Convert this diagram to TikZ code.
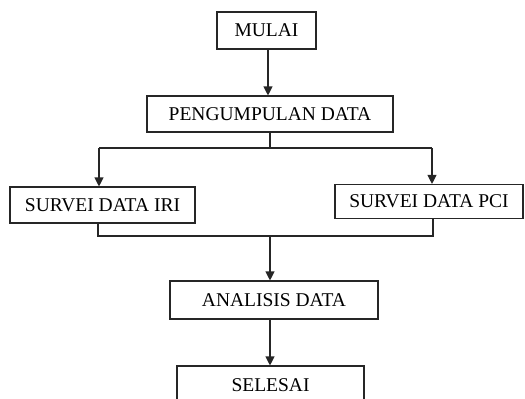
\documentclass[tikz,border=0pt]{standalone}
\usepackage{fontspec}
\setmainfont{Liberation Serif}
\usetikzlibrary{arrows.meta}
\begin{document}
\begin{tikzpicture}[x=1pt,y=-1pt,
  box/.style={draw=black!85,line width=1.1pt,inner sep=0pt,align=center,
    font=\fontsize{19.5}{21}\selectfont},
  link/.style={draw=black!85,line width=1.1pt},
  arr/.style={link,-{Triangle[length=9pt,width=9pt]}}]
\useasboundingbox (0,0) rectangle (525,399);
\clip (0,0) rectangle (525,399);
\node[box,minimum width=99pt,minimum height=37pt] (mulai) at (266.5,30.5) {MULAI};
\node[box,minimum width=246pt,minimum height=36pt] (peng) at (270,114) {PENGUMPULAN DATA};
\node[box,minimum width=185pt,minimum height=36pt] (iri) at (102.5,205) {SURVEI DATA IRI};
\node[box,minimum width=188pt,minimum height=34pt] (pci) at (429,201.5) {SURVEI DATA PCI};
\node[box,minimum width=208pt,minimum height=38pt] (anal) at (274,300) {ANALISIS DATA};
\node[box,minimum width=187pt,minimum height=38pt] (sel) at (270.5,385) {SELESAI};
\coordinate (s1) at (268,49);
\draw[arr] (s1) -- (s1 |- peng.north);
\coordinate (s2) at (270,132);
\coordinate (j1) at (270,148);
\coordinate (l1) at (99,148);
\coordinate (r1) at (432,148);
\draw[link] (s2) -- (j1);
\draw[link] (l1) -- (r1);
\draw[arr] (l1) -- (l1 |- iri.north);
\draw[arr] (r1) -- (r1 |- pci.north);
\coordinate (l2) at (98,236);
\coordinate (r2) at (433,236);
\coordinate (j2) at (270,236);
\draw[link] (l2 |- iri.south) -- (l2) -- (r2) -- (r2 |- pci.south);
\draw[arr] (j2) -- (j2 |- anal.north);
\coordinate (s3) at (270,319);
\draw[arr] (s3) -- (s3 |- sel.north);
\end{tikzpicture}
\end{document}
